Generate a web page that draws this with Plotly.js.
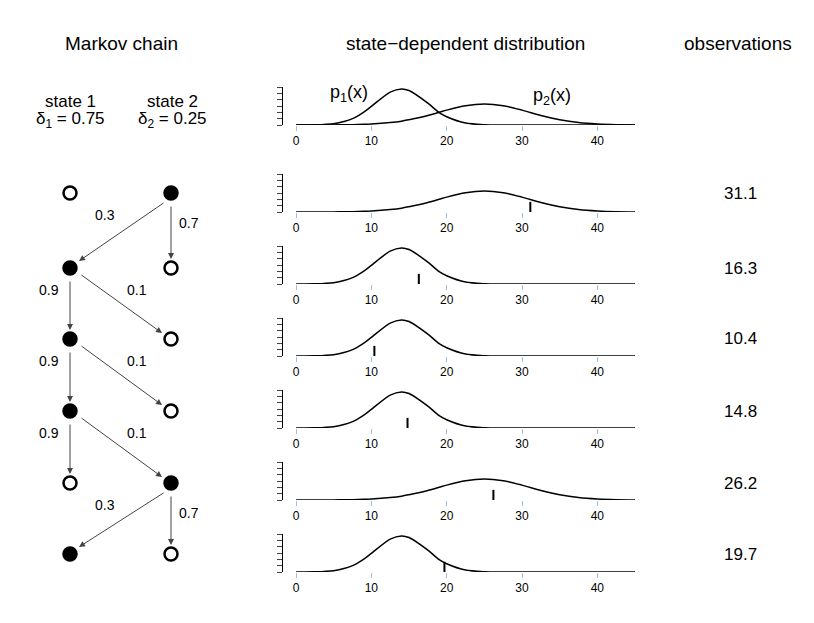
<!DOCTYPE html>
<html><head><script src="https://cdn.plot.ly/plotly-3.0.1.min.js"></script></head>
<body style="margin:0"><div id="myDiv" style="width:814px;height:623px"></div>
<script>
// densities
const xGrid = [0, 2.5, 5, 6.5, 7.5, 9, 10, 12.5, 14, 15, 17.5, 19, 20, 22.5, 25, 27.5, 30, 32.5, 35, 37.5, 40, 42.5, 45];
const dens1 = [0.0000, 0.0005, 0.0042, 0.012, 0.020, 0.041, 0.059, 0.104, 0.114, 0.109, 0.069, 0.039, 0.026, 0.006, 0.0008, 0.0001, 0, 0, 0, 0, 0, 0, 0];
const dens2 = [0.0000, 0.0001, 0.0003, 0.0006, 0.0009, 0.002, 0.003, 0.0076, 0.012, 0.0166, 0.030, 0.040, 0.047, 0.061, 0.0665, 0.061, 0.047, 0.030, 0.0166, 0.0076, 0.003, 0.0009, 0.0003];
const observations = [31.1, 16.3, 10.4, 14.8, 26.2, 19.7];
const states = [2, 1, 1, 1, 2, 1];
const transLabels = [['0.3', '0.7'], ['0.9', '0.1'], ['0.9', '0.1'], ['0.9', '0.1'], ['0.3', '0.7']];
const xTicks = [0, 10, 20, 30, 40];

const W = 814, H = 623;
const axisBottoms = [125, 212, 284, 356, 428, 500, 572];
const rowY = [193, 268, 339, 411, 483, 554];
const stateX = {1: 70, 2: 171};
const font = {family: 'Liberation Sans, Arial, sans-serif', color: '#000'};

const data = [];
const layout = {
    width: W, height: H, margin: {l: 0, r: 0, t: 0, b: 0},
    showlegend: false, paper_bgcolor: '#fff', plot_bgcolor: 'rgba(0,0,0,0)',
    font: Object.assign({size: 13}, font),
    annotations: [], shapes: []
};

function paperText(t, x, y, size) {
    layout.annotations.push({x: x / W, y: 1 - y / H, xref: 'paper', yref: 'paper', xanchor: 'center', yanchor: 'middle',
        text: t, showarrow: false, font: {size: size}});
}

axisBottoms.forEach((b, i) => {
    const n = i + 1;
    const xa = 'xaxis' + n, ya = 'yaxis' + n;
    layout[xa] = {
        domain: [283 / W, 640 / W], range: [-1.73, 45.66], anchor: 'y' + n,
        showgrid: false, zeroline: false, showline: false,
        tickvals: xTicks, ticks: 'outside', ticklen: 5, tickcolor: '#9cc3e6',
        tickfont: {size: 12}, fixedrange: true
    };
    layout[ya] = {
        domain: [1 - b / H, 1 - (b - 38) / H], range: [0, 0.12], anchor: 'x' + n,
        showgrid: false, zeroline: false, showline: true, linecolor: '#000', linewidth: 1,
        dtick: 0.02, ticks: 'outside', ticklen: 5, showticklabels: false, fixedrange: true
    };
    const xr = 'x' + n, yr = 'y' + n;
    const line = {color: '#000', width: 1.5, shape: 'spline', smoothing: 0.8};
    if (i === 0) {
        data.push({x: xGrid, y: dens1, xaxis: xr, yaxis: yr, mode: 'lines', line: line});
        data.push({x: xGrid, y: dens2, xaxis: xr, yaxis: yr, mode: 'lines', line: line});
        layout.annotations.push({x: 7, y: 0.1, xref: xr, yref: yr, xanchor: 'center', text: 'p<sub>1</sub>(x)', showarrow: false, font: {size: 18}});
        layout.annotations.push({x: 34, y: 0.09, xref: xr, yref: yr, xanchor: 'center', text: 'p<sub>2</sub>(x)', showarrow: false, font: {size: 18}});
    } else {
        const k = i - 1;
        data.push({x: xGrid, y: states[k] === 1 ? dens1 : dens2, xaxis: xr, yaxis: yr, mode: 'lines', line: line});
        data.push({x: [observations[k], observations[k]], y: [0, 0.032], xaxis: xr, yaxis: yr, mode: 'lines', line: {color: '#000', width: 2}});
        paperText(observations[k].toFixed(1), 740, rowY[k], 17);
    }
});

// overlay axis in pixel coordinates for the Markov chain
layout.xaxis8 = {domain: [0, 1], range: [0, W], visible: false, fixedrange: true, anchor: 'y8'};
layout.yaxis8 = {domain: [0, 1], range: [H, 0], visible: false, fixedrange: true, anchor: 'x8'};
const cx = [], cy = [], cfill = [];
rowY.forEach((y, k) => {
    [1, 2].forEach(s => {
        cx.push(stateX[s]); cy.push(y);
        cfill.push(states[k] === s ? '#000' : '#fff');
    });
});
data.push({x: cx, y: cy, xaxis: 'x8', yaxis: 'y8', mode: 'markers',
    marker: {size: 13, color: cfill, line: {color: '#000', width: 2.5}}});

function arrow(x0, y0, x1, y1) {
    layout.annotations.push({x: x1, y: y1, ax: x0, ay: y0, xref: 'x8', yref: 'y8', axref: 'x8', ayref: 'y8',
        showarrow: true, arrowhead: 2, arrowsize: 1.2, arrowwidth: 1, arrowcolor: '#444', text: ''});
}
function label(x, y, t) {
    layout.annotations.push({x: x, y: y, xref: 'x8', yref: 'y8', xanchor: 'center', text: t, showarrow: false, font: {size: 14}});
}
for (let k = 0; k < 5; k++) {
    const y0 = rowY[k], y1 = rowY[k + 1];
    if (states[k] === 2) {
        arrow(165, y0 + 9, 79, y1 - 7); label(105, y0 + 22, transLabels[k][0]);
        arrow(171, y0 + 12, 171, y1 - 9); label(189, y0 + 30, transLabels[k][1]);
    } else {
        arrow(70, y0 + 12, 70, y1 - 9); label(49, y0 + 22, transLabels[k][0]);
        arrow(80, y0 + 6, 162, y1 - 6); label(137, y0 + 22, transLabels[k][1]);
    }
}

paperText('Markov chain', 121, 43, 19);
paperText('state\u2212dependent distribution', 465, 43, 19);
paperText('observations', 738, 43, 19);
paperText('state 1', 70, 101, 17);
paperText('\u03b4<sub>1</sub> = 0.75', 70, 120, 17);
paperText('state 2', 172, 101, 17);
paperText('\u03b4<sub>2</sub> = 0.25', 172, 120, 17);

Plotly.newPlot('myDiv', data, layout, {displayModeBar: false, staticPlot: true});
</script></body></html>
